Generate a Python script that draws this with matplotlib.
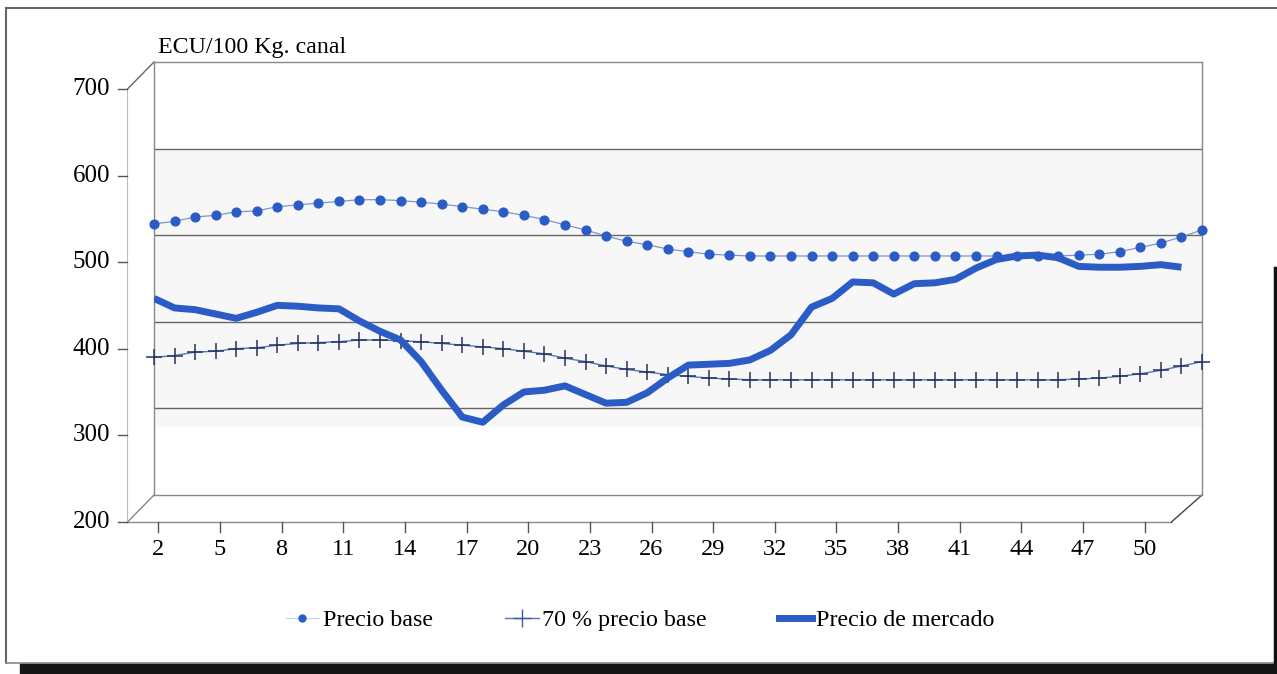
import matplotlib.pyplot as plt
from matplotlib.lines import Line2D

# semanas 1..52
semanas = list(range(1, 53))
precio_base = [513, 516, 521, 523, 527, 528, 533, 535, 537, 539,
               541, 541, 540, 538, 536, 533, 530, 527, 523, 518,
               512, 506, 499, 493, 489, 484, 481, 478, 477, 476,
               476, 476, 476, 476, 476, 476, 476, 476, 476, 476,
               476, 476, 476, 476, 476, 477, 478, 481, 486, 491,
               498, 506]
precio_70 = [359, 361, 365, 366, 369, 370, 373, 375, 376, 377,
             379, 379, 378, 377, 375, 373, 371, 369, 366, 363,
             358, 354, 349, 345, 342, 339, 337, 335, 334, 333,
             333, 333, 333, 333, 333, 333, 333, 333, 333, 333,
             333, 333, 333, 333, 333, 334, 335, 337, 340, 344,
             349, 354]
precio_mercado = [427, 416, 414, 409, 404, 411, 419, 418, 416, 415,
                  401, 389, 379, 354, 321, 290, 284, 304, 319, 321,
                  326, 316, 306, 307, 318, 335, 350, 351, 352, 356,
                  367, 385, 417, 427, 446, 445, 432, 444, 445, 449,
                  462, 472, 476, 477, 474, 464, 463, 463, 464, 466,
                  463]
etiquetas_x = list(range(2, 51, 3))
ticks_y = [200, 300, 400, 500, 600, 700]

plt.rcParams['font.family'] = ['Liberation Serif', 'DejaVu Serif']
W, H = 1277, 674
fig = plt.figure(figsize=(W / 100, H / 100), dpi=100)

# pared del fondo
ax = fig.add_axes([154 / W, 1 - 495 / H, 1048 / W, 433 / H])
ax.set_xlim(1, 52)
ax.set_ylim(200, 700)
ax.set_facecolor('white')
ax.axhspan(280, 600, color='#f7f7f7', zorder=0)
for v in [300, 400, 500, 600]:
    ax.axhline(v, color='#666666', lw=1, zorder=1)
for s in ax.spines.values():
    s.set_color('#888888')
    s.set_linewidth(1)
ax.set_xticks([])
ax.set_yticks([])

# desplazamiento de la cara frontal en unidades de datos
DX = 26.5 / (1048 / 51)
DY = 27 / (433 / 500)
gris = '#888888'
# suelo y aristas
ax.plot([1 - DX, 51.8 - DX], [200 - DY, 200 - DY], color=gris, lw=1, clip_on=False)
ax.plot([1 - DX, 1], [200 - DY, 200], color=gris, lw=1, clip_on=False)
ax.plot([51.8 - DX, 52], [200 - DY, 200], color='#444444', lw=1, clip_on=False)
ax.plot([1 - DX, 1], [700 - DY, 700], color='#666666', lw=1, clip_on=False)
ax.plot([1 - DX, 1 - DX], [200 - DY, 700 - DY], color='#bbbbbb', lw=0.8, clip_on=False)

# eje de valores (frontal)
for v in ticks_y:
    ax.plot([1 - DX - 0.45, 1 - DX], [v - DY, v - DY], color='#555555', lw=1, clip_on=False)
    ax.text(1 - DX - 0.85, v - DY, str(v), ha='right', va='center', fontsize=18, clip_on=False)

# eje de categorías (frontal)
for k in etiquetas_x:
    ax.plot([k + 0.5 - DX] * 2, [200 - DY, 200 - DY - 11], color='#555555', lw=1, clip_on=False)
    ax.text(k + 0.5 - DX, 200 - DY - 32, str(k), ha='center', va='center', fontsize=17.5,
            clip_on=False)

# series
azul = '#2b5cc6'
ax.plot(semanas, precio_base, color='#7d96c8', lw=0.9, marker='o', ms=6.3,
        mfc=azul, mec=azul, zorder=4, clip_on=False)
ax.plot(semanas, precio_70, color='#5577b5', lw=1, marker='+', ms=11, mew=1.1,
        mec='#22335e', zorder=4, clip_on=False)
ax.plot(semanas[:len(precio_mercado)], precio_mercado, color=azul, lw=5,
        solid_capstyle='butt', solid_joinstyle='round', zorder=5)

fig.text(158 / W, 1 - 47 / H, 'ECU/100 Kg. canal', ha='left', va='center', fontsize=17.2)

# leyenda
h1 = Line2D([], [], color='#c5d2ec', lw=0.8, marker='o', ms=5, mfc=azul, mec=azul)
h2 = Line2D([], [], color='#5577b5', lw=1, marker='+', ms=13, mew=1, mec='#3d5a9a')
h3 = Line2D([], [], color=azul, lw=5)
fig.legend([h1, h2, h3], ['Precio base', '70 % precio base', 'Precio de mercado'],
           loc='center', bbox_to_anchor=(640 / W, 1 - 620 / H), ncol=3, frameon=False,
           fontsize=17.3, handlelength=1.4, handletextpad=0.15, columnspacing=3.0)

# marco exterior y sombra
def px(x, y):
    return x / W, 1 - y / H

for (x0, y0), (x1, y1), c, lw in [((6, 8), (1277, 8), '#666666', 1.5),
                                   ((6, 8), (6, 663), '#666666', 1.5),
                                   ((6, 663), (1277, 663), '#888888', 1.2),
                                   ((1275, 268), (1275, 663), '#111111', 2.5)]:
    a, b = px(x0, y0)
    c2, d = px(x1, y1)
    fig.add_artist(Line2D([a, c2], [b, d], color=c, lw=lw))
fig.patches.append(plt.Rectangle(px(20, 674), (W - 20) / W, 10 / H,
                                 transform=fig.transFigure, color='#161616', zorder=10))

fig.savefig('out.png', dpi=100)
